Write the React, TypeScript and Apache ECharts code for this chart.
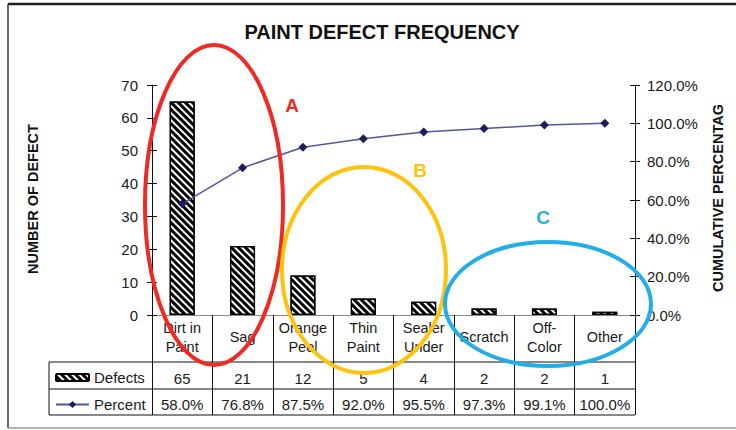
import React, { useEffect, useRef } from "react";
import * as echarts from "echarts";

const categories = ["Dirt in\nPaint", "Sag", "Orange\nPeel", "Thin\nPaint", "Sealer\nUnder", "Scratch", "Off-\nColor", "Other"];
const defects = [65, 21, 12, 5, 4, 2, 2, 1];
const cumulativePercent = [58.0, 76.8, 87.5, 92.0, 95.5, 97.3, 99.1, 100.0];
const leftTicks = { min: 0, max: 70, interval: 10 };
const rightTicks = { min: 0, max: 120, interval: 20 };

const FONT = "'Liberation Sans', Arial, sans-serif";

export default function App() {
  const ref = useRef<HTMLDivElement>(null);
  useEffect(() => {
    if (!ref.current) return;
    const chart = echarts.init(ref.current, null, { renderer: "svg" });
    const GL = 152, GR = 635, GT = 85, GB = 315;
    const txt = { fontFamily: FONT, color: "#1a1a1a" };
    const pct = (v: number) => v.toFixed(1) + "%";
    const legendBase = {
      orient: "horizontal",
      left: 50,
      itemGap: 8,
      itemWidth: 33,
      selectedMode: false,
      textStyle: { ...txt, fontSize: 15, padding: [0, 0, 6, 0] },
    };
    const option: any = {
      animation: false,
      backgroundColor: "#fff",
      title: {
        text: "PAINT DEFECT FREQUENCY",
        left: 377,
        top: 17,
        textAlign: "center",
        textStyle: { fontFamily: FONT, fontSize: 20, fontWeight: "bold", color: "#111" },
      },
      grid: { left: GL, right: 736 - GR, top: GT, bottom: 430 - GB, containLabel: false },
      legend: [
        { ...legendBase, data: ["Defects"], top: 365, itemHeight: 7 },
        { ...legendBase, data: ["Percent"], top: 392, itemHeight: 9 },
      ],
      xAxis: [
        {
          type: "category",
          data: categories,
          position: "bottom",
          axisLine: { show: true, lineStyle: { color: "#111", width: 1 } },
          axisTick: { show: true, alignWithLabel: false, interval: 0, length: 100, lineStyle: { color: "#111", width: 1 } },
          axisLabel: { ...txt, interval: 0, fontSize: 14.5, lineHeight: 19, verticalAlign: "middle", margin: 22 },
        },
        {
          type: "category",
          data: categories,
          position: "bottom",
          offset: 41,
          axisLine: { show: false },
          axisTick: { show: false },
          axisLabel: { ...txt, interval: 0, fontSize: 15, verticalAlign: "middle", margin: 22, formatter: (_v: string, i: number) => String(defects[i]) },
        },
        {
          type: "category",
          data: categories,
          position: "bottom",
          offset: 67,
          axisLine: { show: false },
          axisTick: { show: false },
          axisLabel: { ...txt, interval: 0, fontSize: 15, verticalAlign: "middle", margin: 22, formatter: (_v: string, i: number) => pct(cumulativePercent[i]) },
        },
        {
          type: "category",
          data: categories,
          position: "top",
          axisLine: { show: true, lineStyle: { color: "#8a8a8a", width: 1.2 } },
          axisTick: { show: false },
          axisLabel: { show: false },
        },
      ],
      yAxis: [
        {
          type: "value",
          position: "left",
          ...leftTicks,
          axisLine: { show: true, lineStyle: { color: "#111" } },
          axisTick: { show: true, length: 5, lineStyle: { color: "#111" } },
          axisLabel: { ...txt, fontSize: 15, margin: 14 },
          splitLine: { show: false },
        },
        {
          type: "value",
          position: "right",
          ...rightTicks,
          axisLine: { show: true, lineStyle: { color: "#111" } },
          axisTick: { show: true, length: 5, lineStyle: { color: "#111" } },
          axisLabel: { ...txt, fontSize: 15, margin: 12, formatter: (v: number) => pct(v) },
          splitLine: { show: false },
        },
        {
          type: "value",
          position: "left",
          ...leftTicks,
          axisLine: { show: false },
          axisTick: { show: true, inside: true, length: 5, lineStyle: { color: "#111" } },
          axisLabel: { show: false },
          splitLine: { show: false },
        },
        {
          type: "value",
          position: "right",
          ...rightTicks,
          axisLine: { show: false },
          axisTick: { show: true, inside: true, length: 5, lineStyle: { color: "#111" } },
          axisLabel: { show: false },
          splitLine: { show: false },
        },
      ],
      series: [
        {
          name: "Defects",
          type: "bar",
          data: defects,
          xAxisIndex: 0,
          yAxisIndex: 0,
          barWidth: 25,
          itemStyle: {
            color: "#fff",
            borderColor: "#000",
            borderWidth: 1.2,
            decal: {
              symbol: "rect",
              symbolSize: 1,
              color: "#000",
              dashArrayX: [1, 0],
              dashArrayY: [3, 2],
              rotation: Math.PI / 4,
            },
          },
        },
        {
          name: "Percent",
          type: "line",
          data: cumulativePercent,
          xAxisIndex: 0,
          yAxisIndex: 1,
          symbol: "diamond",
          symbolSize: 9,
          itemStyle: { color: "#1c1c5e" },
          lineStyle: { color: "#55559a", width: 1.5 },
        },
      ],
      graphic: [
        { type: "line", shape: { x1: 8, y1: 4, x2: 736, y2: 4 }, style: { stroke: "#222", lineWidth: 2.5 } },
        { type: "line", shape: { x1: 8, y1: 4, x2: 8, y2: 428 }, style: { stroke: "#333", lineWidth: 1.5 } },
        { type: "line", shape: { x1: 8, y1: 428, x2: 736, y2: 428 }, style: { stroke: "#999", lineWidth: 1.5 } },
        { type: "line", shape: { x1: 49, y1: 362, x2: GR, y2: 362 }, style: { stroke: "#111", lineWidth: 1 } },
        { type: "line", shape: { x1: 49, y1: 389, x2: GR, y2: 389 }, style: { stroke: "#111", lineWidth: 1 } },
        { type: "line", shape: { x1: 49, y1: 415, x2: GR, y2: 415 }, style: { stroke: "#111", lineWidth: 1 } },
        { type: "line", shape: { x1: 49, y1: 362, x2: 49, y2: 415 }, style: { stroke: "#111", lineWidth: 1 } },
        {
          type: "text", x: 33, y: 199, rotation: Math.PI / 2,
          style: { text: "NUMBER OF DEFECT", align: "center", verticalAlign: "middle", font: `bold 14.5px ${FONT}`, fill: "#111" },
        },
        {
          type: "text", x: 718, y: 198, rotation: Math.PI / 2,
          style: { text: "CUMULATIVE PERCENTAG", align: "center", verticalAlign: "middle", font: `bold 14.5px ${FONT}`, fill: "#111" },
        },
        { type: "ellipse", z: 100, shape: { cx: 214, cy: 205, rx: 69, ry: 160 }, style: { fill: "none", stroke: "#ee2a24", lineWidth: 4 } },
        { type: "ellipse", z: 100, shape: { cx: 364, cy: 270, rx: 82, ry: 103 }, style: { fill: "none", stroke: "#ffc20e", lineWidth: 4 } },
        { type: "ellipse", z: 100, shape: { cx: 548, cy: 304, rx: 103, ry: 62 }, style: { fill: "none", stroke: "#22aee6", lineWidth: 4 } },
        { type: "text", z: 100, x: 292, y: 105, style: { text: "A", align: "center", verticalAlign: "middle", font: `bold 19px ${FONT}`, fill: "#ee2a24" } },
        { type: "text", z: 100, x: 420, y: 170, style: { text: "B", align: "center", verticalAlign: "middle", font: `bold 19px ${FONT}`, fill: "#ffc20e" } },
        { type: "text", z: 100, x: 543, y: 217, style: { text: "C", align: "center", verticalAlign: "middle", font: `bold 19px ${FONT}`, fill: "#22aee6" } },
      ],
    };
    chart.setOption(option);
    return () => chart.dispose();
  }, []);
  return <div ref={ref} style={{ width: 736, height: 430, position: "absolute", left: 0, top: 0 }} />;
}
